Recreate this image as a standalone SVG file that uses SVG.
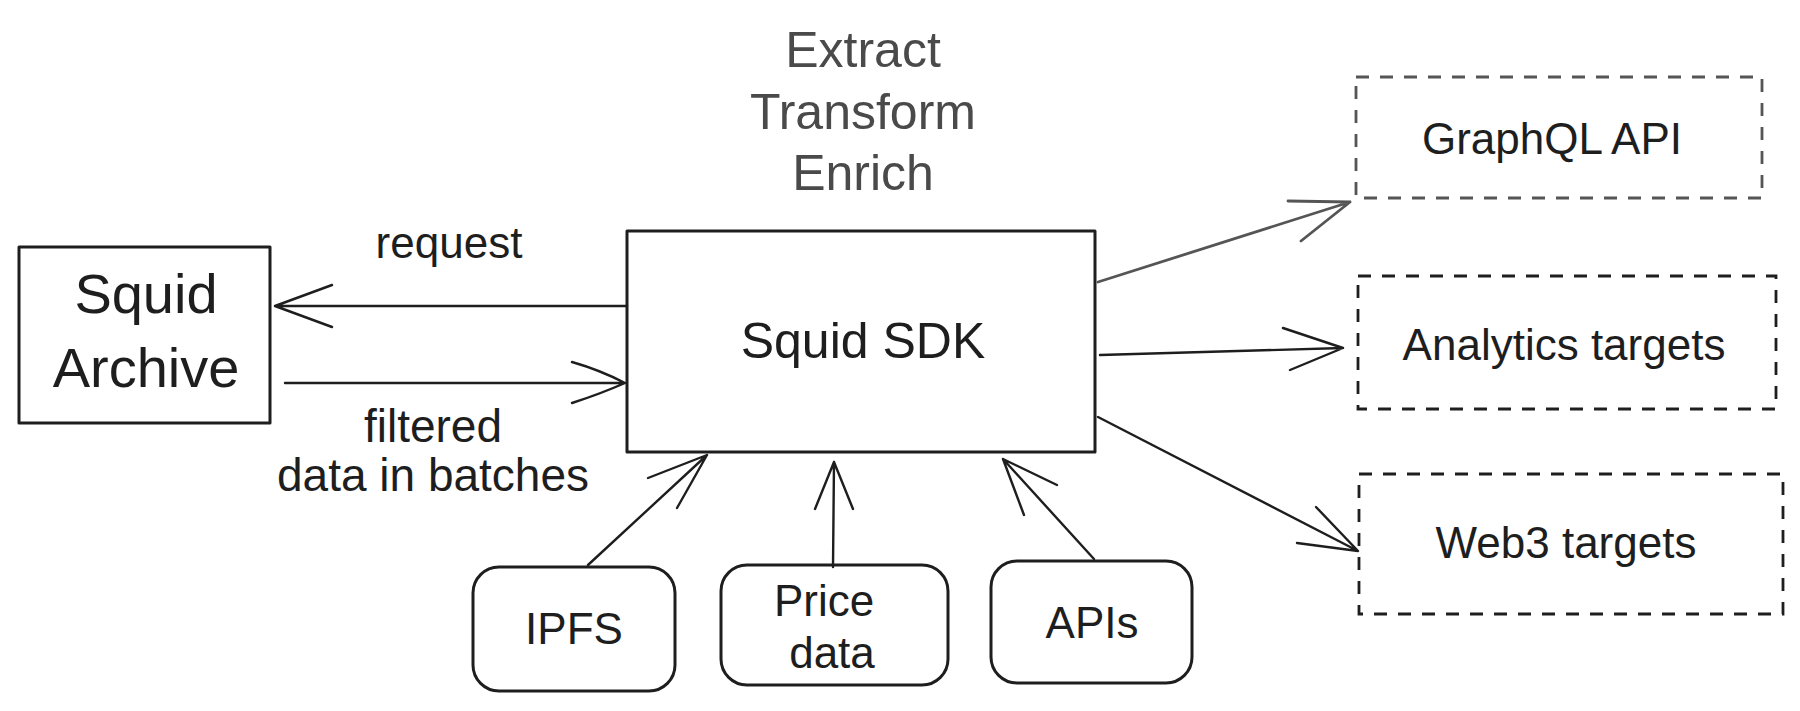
<svg xmlns="http://www.w3.org/2000/svg" width="1800" height="711" viewBox="0 0 1800 711">
<style>
  .box { fill: none; stroke: #1e1e1e; stroke-width: 3; stroke-linejoin: round; }
  .dash { fill: none; stroke: #1e1e1e; stroke-width: 2.8; stroke-dasharray: 13 11; }
  .dash.gray { stroke: #555555; }
  .conn { fill: none; stroke: #1e1e1e; stroke-width: 2.4; stroke-linecap: round; stroke-linejoin: round; }
  .conn.gray { stroke: #555555; stroke-width: 2.8; }
  text { font-family: "Liberation Sans", Arial, sans-serif; fill: #1e1e1e; text-anchor: middle; }
  .ete { fill: #4a4a4a; font-size: 50px; }
  .lbl { font-size: 44px; }
</style>
<rect width="1800" height="711" fill="#ffffff"/>

<g id="title">
  <text class="ete" x="863" y="67">Extract</text>
  <text class="ete" x="863" y="129">Transform</text>
  <text class="ete" x="863" y="190">Enrich</text>
</g>

<g id="squid-archive">
  <rect class="box" x="19" y="247" width="251" height="176"/>
  <text x="146" y="313" font-size="56">Squid</text>
  <text x="146" y="387" font-size="56">Archive</text>
</g>

<g id="squid-sdk">
  <rect class="box" x="627" y="231" width="468" height="221"/>
  <text x="863" y="358" font-size="50">Squid SDK</text>
</g>

<g id="graphql-api">
  <rect class="dash gray" x="1356" y="77" width="406" height="121"/>
  <text class="lbl" x="1552" y="154">GraphQL API</text>
</g>

<g id="analytics-targets">
  <rect class="dash" x="1358" y="276" width="418" height="133"/>
  <text class="lbl" x="1564" y="360">Analytics targets</text>
</g>

<g id="web3-targets">
  <rect class="dash" x="1359" y="474" width="424" height="140"/>
  <text class="lbl" x="1566" y="558">Web3 targets</text>
</g>

<g id="ipfs">
  <rect class="box" x="473" y="567" width="202" height="124" rx="26"/>
  <text class="lbl" x="574" y="644">IPFS</text>
</g>

<g id="price-data">
  <rect class="box" x="721" y="565" width="227" height="120" rx="26"/>
  <text class="lbl" x="824" y="616">Price</text>
  <text class="lbl" x="832" y="668">data</text>
</g>

<g id="apis">
  <rect class="box" x="991" y="561" width="201" height="122" rx="26"/>
  <text class="lbl" x="1092" y="638">APIs</text>
</g>

<g id="connectors">
  <!-- request -->
  <path class="conn" d="M627 306 L275 306 M332 285 L275 306 L332 327"/>
  <!-- filtered data in batches -->
  <path class="conn" d="M285 383 L625 383 M572 362 Q600 370 625 383 Q600 394 572 403"/>
  <!-- SDK -> GraphQL -->
  <path class="conn gray" d="M1098 282 L1350 202 M1288 201 L1350 202 L1301 241"/>
  <!-- SDK -> Analytics -->
  <path class="conn" d="M1100 355 L1343 348 M1283 328 L1343 348 L1290 370"/>
  <!-- SDK -> Web3 -->
  <path class="conn" d="M1098 417 L1358 551 M1316 507 L1358 551 L1297 543"/>
  <!-- IPFS -> SDK -->
  <path class="conn" d="M588 565 L707 455 M648 478 L707 455 L677 508"/>
  <!-- Price -> SDK -->
  <path class="conn" d="M833 567 L834 462 M815 509 L834 462 L853 509"/>
  <!-- APIs -> SDK -->
  <path class="conn" d="M1094 559 L1003 459 M1057 485 L1003 459 L1024 515"/>
  <text class="lbl" x="449" y="258">request</text>
  <text x="433" y="442" font-size="46">filtered</text>
  <text x="433" y="491" font-size="46">data in batches</text>
</g>
</svg>
